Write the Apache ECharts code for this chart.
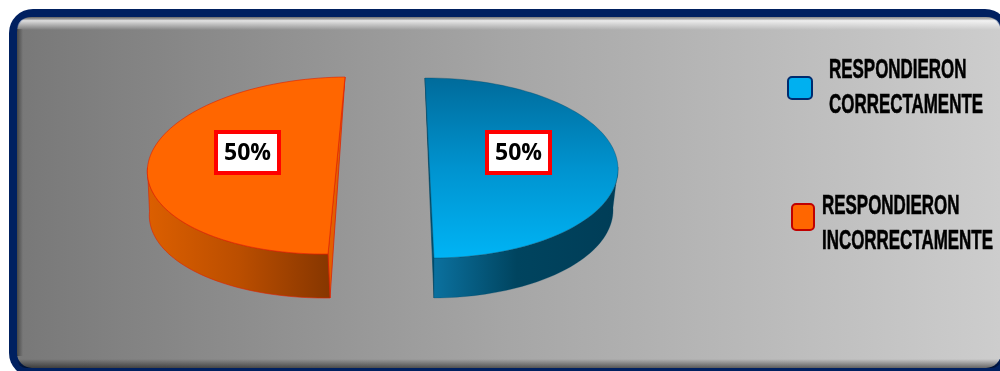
<!DOCTYPE html>
<html>
<head>
<meta charset="utf-8">
<style>html,body{margin:0;padding:0;background:#fff}#c{width:1000px;height:371px}</style>
<script src="https://cdn.jsdelivr.net/npm/echarts@6/dist/echarts.min.js"></script>
</head>
<body>
<div id="c"></div>
<script>
const categories = ['RESPONDIERON\nCORRECTAMENTE', 'RESPONDIERON\nINCORRECTAMENTE'];
const values = [50, 50];
const sliceColors = ['#00b0f0', '#ff6600'];
const legendBorders = ['#002b6e', '#c00000'];
const total = values.reduce((a, b) => a + b, 0);

// Projected ellipse of each wedge: centre, half-axes, and the floor of the extruded wall.
const wedgeFrames = [
  { c: [429.5, 168], u: [188.5, -1], v: [4.5, 90], fc: [429, 208.5], fu: [184, -1], fv: [5, 89.5], label: [518.5, 152.5] },
  { c: [336.5, 165.5], u: [-189, 2], v: [-8.5, 88.5], fc: [338.5, 209.5], fu: [-189, 2], fv: [-8.5, 88.5], label: [247.5, 152.5] }
];

function grad(x, y, x2, y2, stops) {
  return { type: 'linear', x, y, x2, y2, colorStops: stops.map((s) => ({ offset: s[0], color: s[1] })) };
}
const topFills = [
  grad(0, 0, 0, 1, [[0, '#006b9b'], [0.5, '#0093cf'], [1, '#00b4f5']]),
  '#ff6600'
];
const wallFills = [
  grad(0, 0, 1, 0, [[0, '#0b719f'], [0.45, '#00445f'], [1, '#003d57']]),
  grad(0, 0, 1, 0, [[0, '#dc5f00'], [0.5, '#bb4e00'], [1, '#863600']])
];
const cutFills = ['#00516f', '#e25f00'];
const edgeColors = ['rgba(0,70,100,0.6)', 'rgba(225,30,0,0.75)'];

function ePoint(c, u, v, t) {
  return [c[0] + Math.cos(t) * u[0] + Math.sin(t) * v[0], c[1] + Math.cos(t) * u[1] + Math.sin(t) * v[1]];
}
function arc(c, u, v, t0, t1, n) {
  const out = [];
  for (let i = 0; i <= n; i++) out.push(ePoint(c, u, v, t0 + (t1 - t0) * i / n));
  return out;
}

function renderWedge(params, api) {
  const i = params.dataIndex;
  const f = wedgeFrames[i];
  // Half of the wedge's sweep comes from its share of the total.
  const half = (api.value(0) / total) * Math.PI;
  const topArc = arc(f.c, f.u, f.v, -half, half, 90);
  const wallTop = arc(f.c, f.u, f.v, 0, half, 50);
  const wallFloor = arc(f.fc, f.fu, f.fv, 0, half, 50).reverse();
  const a = topArc[0], b = topArc[topArc.length - 1];
  const fb = ePoint(f.fc, f.fu, f.fv, half);
  return {
    type: 'group',
    children: [
      { type: 'polygon', shape: { points: [a, fb, b] }, style: { fill: cutFills[i], stroke: edgeColors[i], lineWidth: 1 } },
      { type: 'polygon', shape: { points: wallTop.concat(wallFloor) }, style: { fill: wallFills[i], stroke: edgeColors[i], lineWidth: i === 1 ? 0.8 : 0.4 } },
      { type: 'polygon', shape: { points: topArc }, style: { fill: topFills[i], stroke: edgeColors[i], lineWidth: i === 1 ? 0.8 : 0.6 } },
      {
        type: 'rect', z2: 9,
        shape: { x: f.label[0] - 31.5, y: f.label[1] - 20.5, width: 63, height: 41 },
        style: { fill: '#fff', stroke: '#ff0000', lineWidth: 4 }
      },
      {
        type: 'text', x: f.label[0], y: f.label[1] + 1, z2: 10,
        style: {
          text: api.value(0) + '%', align: 'center', verticalAlign: 'middle',
          fontFamily: 'Open Sans', fontWeight: 'bold', fontSize: 23, fill: '#000'
        }
      }
    ]
  };
}

// Bevelled panel behind the chart.
const panel = { x: 17, y: 17, w: 984, h: 351, r: 15 };
const panelGraphics = [
  { type: 'rect', shape: { x: 9, y: 9, width: 1000, height: 368, r: 24 }, style: { fill: '#002060' }, z: 0 },
  { type: 'rect', shape: { x: panel.x, y: panel.y, width: panel.w, height: panel.h, r: panel.r },
    style: { fill: grad(0, 0, 1, 0, [[0, '#787878'], [0.5, '#a6a6a6'], [1, '#cdcdcd']]) }, z: 1 },
  { type: 'rect', shape: { x: panel.x, y: panel.y, width: panel.w, height: 13, r: [panel.r, panel.r, 0, 0] },
    style: { fill: grad(0, 0, 0, 1, [[0, 'rgba(80,80,80,0.45)'], [0.28, 'rgba(255,255,255,0.75)'], [1, 'rgba(255,255,255,0)']]) }, z: 2 },
  { type: 'rect', shape: { x: panel.x, y: panel.y + panel.h - 9, width: panel.w, height: 9, r: [0, 0, panel.r, panel.r] },
    style: { fill: grad(0, 0, 0, 1, [[0, 'rgba(0,0,0,0)'], [1, 'rgba(0,0,0,0.5)']]) }, z: 2 },
  { type: 'rect', shape: { x: panel.x, y: panel.y + 12, width: 6, height: panel.h - 24 },
    style: { fill: grad(0, 0, 1, 0, [[0, 'rgba(0,0,0,0.4)'], [1, 'rgba(0,0,0,0)']]) }, z: 2 }
];

// Legend swatches and two-line captions, set in a horizontally compressed bold face.
const legendSlots = [
  { sx: 788, sy: 77, sw: 24, sh: 22, tx: 829, ty: 53 },
  { sx: 792, sy: 204, sw: 22, sh: 26, tx: 822, ty: 189 }
];
const legendGraphics = [];
categories.forEach((name, i) => {
  const s = legendSlots[i];
  legendGraphics.push({ type: 'rect', z: 20, shape: { x: s.sx, y: s.sy, width: s.sw, height: s.sh, r: 4 },
    style: { fill: sliceColors[i], stroke: legendBorders[i], lineWidth: 2 } });
  legendGraphics.push({ type: 'text', z: 20, x: s.tx, y: s.ty, scaleX: 0.605,
    style: { text: name, font: 'bold 28px "Liberation Sans", sans-serif', lineHeight: 35,
      verticalAlign: 'top', fill: '#000', stroke: '#000', lineWidth: 0.6 } });
});

const chart = echarts.init(document.getElementById('c'), null, { renderer: 'canvas' });
chart.setOption({
  animation: false,
  backgroundColor: '#fff',
  graphic: panelGraphics.concat(legendGraphics),
  series: [{
    type: 'custom',
    coordinateSystem: 'none',
    renderItem: renderWedge,
    data: values.map((v, i) => ({ name: categories[i], value: [v] })),
    z: 10,
    silent: true
  }]
});
</script>
</body>
</html>
